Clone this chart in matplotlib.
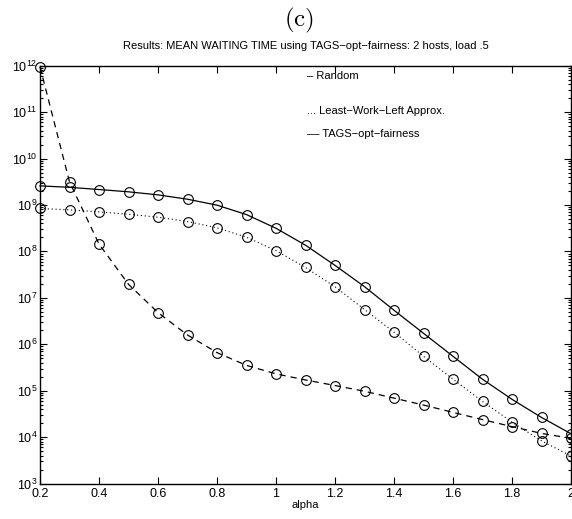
import numpy as np
import matplotlib
matplotlib.use("Agg")
import matplotlib.pyplot as plt
from matplotlib.ticker import LogLocator, NullFormatter

plt.rcParams['font.family'] = ['Liberation Sans', 'DejaVu Sans']
plt.rcParams['mathtext.fontset'] = 'cm'

# --- data ---
alpha = [0.2, 0.3, 0.4, 0.5, 0.6, 0.7, 0.8, 0.9, 1.0, 1.1,
         1.2, 1.3, 1.4, 1.5, 1.6, 1.7, 1.8, 1.9, 2.0]

random_wt = [2.58e9, 2.40e9, 2.15e9, 1.92e9, 1.65e9, 1.33e9, 9.9e8, 6.2e8, 3.15e8, 1.36e8,
             5.0e7, 1.74e7, 5.4e6, 1.72e6, 5.5e5, 1.76e5, 6.5e4, 2.65e4, 1.18e4]

lwl_wt = [8.4e8, 7.85e8, 7.1e8, 6.3e8, 5.45e8, 4.4e8, 3.22e8, 2.02e8, 1.04e8, 4.5e7,
          1.73e7, 5.6e6, 1.82e6, 5.5e5, 1.77e5, 5.85e4, 2.1e4, 8.3e3, 3.9e3]

tags_wt = [9.5e11, 3.14e9, 1.44e8, 1.95e7, 4.8e6, 1.58e6, 6.6e5, 3.5e5, 2.3e5, 1.7e5,
           1.29e5, 9.7e4, 6.9e4, 4.9e4, 3.4e4, 2.38e4, 1.68e4, 1.2e4, 9.4e3]

xtick_vals = [0.2, 0.4, 0.6, 0.8, 1.0, 1.2, 1.4, 1.6, 1.8, 2.0]
xtick_labels = ['0.2', '0.4', '0.6', '0.8', '1', '1.2', '1.4', '1.6', '1.8', '2']

legend_lines = ["– Random", "... Least−Work−Left Approx.", "–– TAGS−opt−fairness"]

fig = plt.figure(figsize=(5.72, 5.19), dpi=100)
ax = fig.add_axes([40 / 572, 1 - 483.5 / 519, 531 / 572, (483.5 - 65.7) / 519])

mk = dict(marker='o', markersize=7, markerfacecolor='none', markeredgecolor='black',
          markeredgewidth=0.8, color='black', clip_on=False)
ax.plot(alpha, random_wt, linestyle='-', lw=0.9, **mk)
ax.plot(alpha, lwl_wt, linestyle=(0, (1, 2.5)), lw=0.8, **mk)
ax.plot(alpha, tags_wt, linestyle=(0, (5, 4)), lw=0.9, **mk)

ax.set_yscale('log')
ax.set_xlim(0.2, 2.0)
ax.set_ylim(1e3, 1e12)
ax.yaxis.set_major_locator(LogLocator(base=10, numticks=20))
ax.yaxis.set_minor_locator(LogLocator(base=10, subs=np.arange(2, 10), numticks=20))
ax.yaxis.set_minor_formatter(NullFormatter())
ax.set_xticks(xtick_vals)
ax.set_xticklabels(xtick_labels)

ax.tick_params(which='both', direction='in', top=True, right=True, labelsize=9, width=0.8)
ax.tick_params(which='major', length=5)
ax.tick_params(which='minor', length=2.5)
ax.tick_params(axis='x', pad=3)
ax.tick_params(axis='y', pad=2)
for s in ax.spines.values():
    s.set_linewidth(1.0)

ax.set_xlabel("alpha", fontsize=8, labelpad=0)

# text-style legend, as in the original
for txt, yv in zip(legend_lines, [76, 111, 134]):
    fig.text(307 / 572, 1 - yv / 519, txt, fontsize=8, va='center', ha='left')

fig.text(306 / 572, 1 - 46 / 519,
         "Results: MEAN WAITING TIME using TAGS−opt−fairness: 2 hosts, load .5",
         fontsize=8, ha='center', va='center')
fig.text(299 / 572, 1 - 20 / 519, r"$(\mathrm{c})$", fontsize=18, ha='center', va='center')

fig.savefig("out.png", dpi=100)
